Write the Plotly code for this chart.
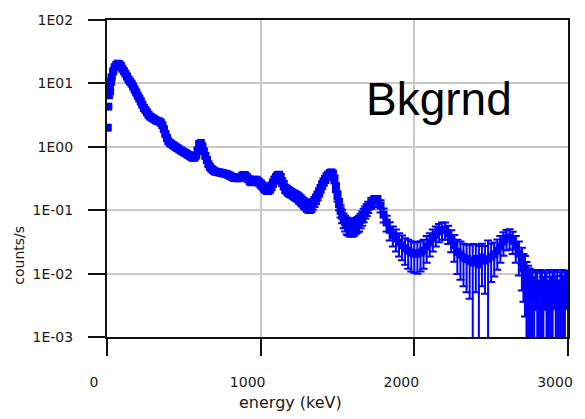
import plotly.graph_objects as go

# Background gamma spectrum: count rate per channel with 1-sigma uncertainties.
# Low-energy channels (keV)
energy_low = [4, 8, 12, 16, 20, 25, 30, 40, 50, 60, 70, 80, 90]
rate_low = [2.0, 4.3, 6.5, 8.5, 7.5, 10.5, 12.5, 15.5, 18.0, 19.5, 20.5, 20.0, 19.0]
relerr_low = [0.05, 0.05, 0.05, 0.05, 0.05, 0.05, 0.04, 0.04, 0.04, 0.03, 0.03, 0.03, 0.03]

# 100-1700 keV in 10 keV bins
energy_a = list(range(100, 1710, 10))
rate_a = [
    17.0, 15.6, 14.2, 12.8, 11.5, 10.7, 9.9, 8.9, 8.0, 7.2,
    6.4, 5.8, 5.2, 4.6, 4.1, 3.8, 3.5, 3.2, 3.0, 2.9,
    2.8, 2.7, 2.6, 2.55, 2.5, 2.4, 2.2, 1.9, 1.6, 1.38,
    1.22, 1.15, 1.10, 1.06, 1.02, 0.98, 0.95, 0.91, 0.88, 0.85,
    0.82, 0.80, 0.77, 0.74, 0.72, 0.69, 0.67, 0.68, 0.73, 0.88,
    1.10, 1.15, 1.02, 0.85, 0.72, 0.62, 0.53, 0.48, 0.45, 0.43,
    0.41, 0.405, 0.40, 0.395, 0.39, 0.385, 0.38, 0.375, 0.37, 0.36,
    0.35, 0.34, 0.33, 0.325, 0.32, 0.32, 0.32, 0.33, 0.35, 0.36,
    0.35, 0.33, 0.31, 0.29, 0.28, 0.29, 0.30, 0.30, 0.29, 0.275,
    0.26, 0.245, 0.23, 0.22, 0.21, 0.21, 0.22, 0.24, 0.27, 0.30,
    0.33, 0.355, 0.36, 0.33, 0.28, 0.25, 0.22, 0.21, 0.20, 0.193,
    0.187, 0.18, 0.174, 0.168, 0.162, 0.154, 0.146, 0.138, 0.131, 0.124,
    0.118, 0.114, 0.113, 0.117, 0.126, 0.137, 0.151, 0.17, 0.193, 0.22,
    0.25, 0.28, 0.31, 0.34, 0.36, 0.38, 0.39, 0.37, 0.31, 0.23,
    0.168, 0.125, 0.098, 0.082, 0.070, 0.064, 0.059, 0.057, 0.055, 0.055,
    0.055, 0.057, 0.059, 0.061, 0.064, 0.070, 0.076, 0.085, 0.094, 0.103,
    0.113,
]
relerr_a = [
    0.03, 0.03, 0.03, 0.03, 0.03, 0.03, 0.03, 0.03, 0.03, 0.03,
    0.03, 0.03, 0.04, 0.04, 0.04, 0.04, 0.04, 0.04, 0.04, 0.04,
    0.04, 0.04, 0.04, 0.04, 0.04, 0.04, 0.04, 0.04, 0.04, 0.04,
    0.05, 0.05, 0.05, 0.05, 0.05, 0.05, 0.05, 0.05, 0.05, 0.05,
    0.05, 0.05, 0.05, 0.05, 0.05, 0.05, 0.05, 0.05, 0.05, 0.05,
    0.05, 0.05, 0.05, 0.06, 0.06, 0.06, 0.07, 0.07, 0.07, 0.07,
    0.08, 0.08, 0.08, 0.08, 0.08, 0.08, 0.09, 0.09, 0.09, 0.09,
    0.09, 0.09, 0.10, 0.10, 0.10, 0.10, 0.10, 0.10, 0.10, 0.10,
    0.11, 0.11, 0.11, 0.12, 0.12, 0.12, 0.12, 0.12, 0.12, 0.12,
    0.13, 0.13, 0.14, 0.14, 0.14, 0.14, 0.14, 0.14, 0.13, 0.13,
    0.12, 0.12, 0.12, 0.13, 0.14, 0.15, 0.15, 0.16, 0.16, 0.16,
    0.16, 0.16, 0.17, 0.17, 0.17, 0.18, 0.18, 0.18, 0.19, 0.19,
    0.20, 0.20, 0.20, 0.20, 0.19, 0.18, 0.17, 0.16, 0.15, 0.14,
    0.14, 0.13, 0.13, 0.12, 0.12, 0.12, 0.12, 0.13, 0.14, 0.16,
    0.18, 0.20, 0.22, 0.24, 0.26, 0.28, 0.30, 0.30, 0.30, 0.30,
    0.30, 0.30, 0.28, 0.28, 0.28, 0.26, 0.25, 0.24, 0.22, 0.21,
    0.20,
]

# 1720-2700 keV in 20 keV bins
energy_b = list(range(1720, 2720, 20))
rate_b = [
    0.131, 0.140, 0.140, 0.118, 0.085, 0.064, 0.049, 0.041, 0.036,
    0.031, 0.028, 0.025, 0.023, 0.0215, 0.0207, 0.0207, 0.0215, 0.023, 0.027,
    0.031, 0.036, 0.041, 0.046, 0.049, 0.049, 0.043, 0.035, 0.028, 0.022,
    0.020, 0.018, 0.017, 0.016, 0.015, 0.017, 0.014, 0.018, 0.016, 0.017,
    0.0185, 0.020, 0.023, 0.027, 0.032, 0.036, 0.037, 0.033, 0.027, 0.0207,
    0.0155,
]
relerr_b = [
    0.20, 0.20, 0.20, 0.22, 0.25, 0.28, 0.32, 0.35, 0.38,
    0.40, 0.42, 0.45, 0.48, 0.50, 0.50, 0.52, 0.50, 0.48, 0.45,
    0.40, 0.38, 0.35, 0.32, 0.30, 0.30, 0.32, 0.38, 0.45, 0.55,
    0.60, 0.65, 0.70, 0.75, 0.95, 0.70, 0.95, 0.65, 0.70, 0.95,
    0.60, 0.55, 0.50, 0.45, 0.40, 0.35, 0.35, 0.38, 0.45, 0.55,
    0.65,
]

# High-energy tail, 2710-3000 keV in 10 keV bins
energy_c = list(range(2710, 3010, 10))
rate_c = [
    0.012, 0.0105, 0.008, 0.007, 0.006, 0.005, 0.006, 0.004, 0.007, 0.005,
    0.003, 0.006, 0.005, 0.004, 0.007, 0.005, 0.003, 0.006, 0.004, 0.005,
    0.007, 0.004, 0.006, 0.003, 0.005, 0.006, 0.004, 0.005, 0.007, 0.005,
]
relerr_c = [
    0.7, 0.8, 0.9, 0.9, 1.0, 1.1, 0.9, 1.2, 0.6, 1.1,
    1.5, 0.9, 1.1, 1.2, 0.6, 1.1, 1.5, 0.9, 1.2, 1.1,
    0.6, 1.3, 0.9, 1.6, 1.1, 0.9, 1.3, 1.1, 0.6, 1.1,
]

energy = energy_low + energy_a + energy_b + energy_c
rate = rate_low + rate_a + rate_b + rate_c
relerr = relerr_low + relerr_a + relerr_b + relerr_c
assert len(energy) == len(rate) == len(relerr)
rate_err = [r * e for r, e in zip(rate, relerr)]

y_tickvals = [1e-3, 1e-2, 1e-1, 1e0, 1e1, 1e2]
y_ticktext = ["1E-03", "1E-02", "1E-01", "1E00", "1E01", "1E02"]
x_tickvals = [0, 1000, 2000, 3000]
x_ticktext = ["0", "1000", "2000", "3000"]

W, H = 585, 419
ML, MR, MT, MB = 107, 16, 18, 82
PW, PH = W - ML - MR, H - MT - MB


def paper_x(px):
    return (px - ML) / PW


def paper_y(py):
    return (H - MB - py) / PH


BLUE = "#0000ff"
INK = "#1a1a1a"
TICKFONT = dict(family="DejaVu Sans", size=14, color=INK)

fig = go.Figure()
fig.add_trace(
    go.Scatter(
        x=energy,
        y=rate,
        mode="markers",
        marker=dict(symbol="square", size=8, color=BLUE, line=dict(width=0)),
        error_y=dict(
            type="data", array=rate_err, visible=True,
            color=BLUE, thickness=2, width=4,
        ),
        showlegend=False,
    )
)

axis_style = dict(
    ticks="outside",
    ticklen=17,
    tickwidth=2,
    tickcolor="#111",
    showline=True,
    linecolor="#111",
    linewidth=2,
    mirror=True,
    showgrid=True,
    gridcolor="#c8c8c8",
    gridwidth=2,
    zeroline=False,
    tickfont=TICKFONT,
)

fig.update_xaxes(
    range=[0, 3000],
    tickvals=x_tickvals,
    ticktext=x_ticktext,
    ticklabelshift=-13,
    ticklabelstandoff=14,
    **axis_style,
)
fig.update_yaxes(
    type="log",
    range=[-3, 2],
    tickvals=y_tickvals,
    ticktext=y_ticktext,
    ticklabelstandoff=12,
    **axis_style,
)

fig.add_annotation(
    x=paper_x(291), y=paper_y(403), xref="paper", yref="paper",
    xanchor="center", yanchor="middle",
    text="energy (keV)", showarrow=False,
    font=dict(family="DejaVu Sans", size=16, color=INK),
)
fig.add_annotation(
    x=paper_x(18), y=paper_y(255), xref="paper", yref="paper",
    xanchor="center", yanchor="middle",
    text="counts/s", showarrow=False, textangle=-90,
    font=dict(family="DejaVu Sans", size=14, color=INK),
)
fig.add_annotation(
    x=paper_x(440), y=paper_y(97), xref="paper", yref="paper",
    xanchor="center", yanchor="middle",
    text="Bkgrnd", showarrow=False,
    font=dict(family="Liberation Sans", size=46, color="#000000"),
)

fig.update_layout(
    width=W,
    height=H,
    margin=dict(l=ML, r=MR, t=MT, b=MB),
    paper_bgcolor="white",
    plot_bgcolor="white",
)

fig.write_html("out.html")
